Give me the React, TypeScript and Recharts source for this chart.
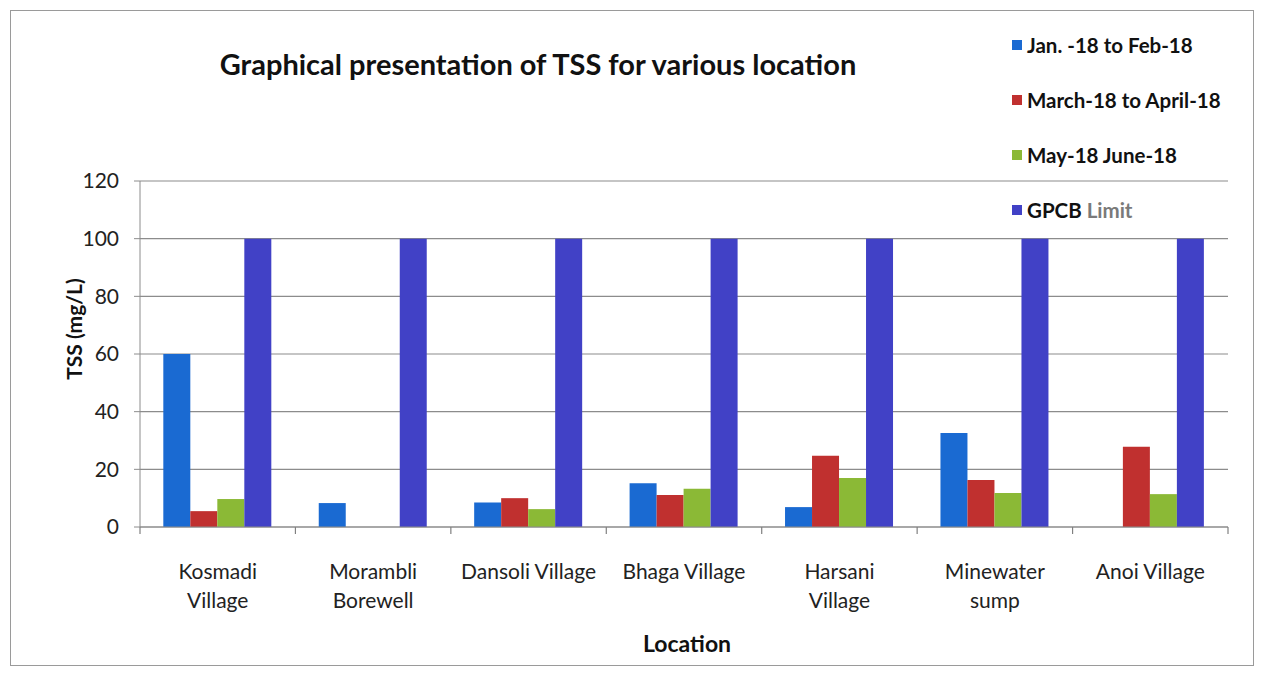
import React from "react";
import { BarChart, Bar, XAxis, YAxis, CartesianGrid } from "recharts";

const categoryLines: string[][] = [
  ["Kosmadi", "Village"],
  ["Morambli", "Borewell"],
  ["Dansoli Village"],
  ["Bhaga Village"],
  ["Harsani", "Village"],
  ["Minewater", "sump"],
  ["Anoi Village"],
];
const categories = categoryLines.map((l) => l.join(" "));

const janFeb = [60, 8.3, 8.5, 15.2, 6.9, 32.6, 0];
const marApr = [5.5, 0, 10, 11.1, 24.7, 16.3, 27.8];
const mayJun = [9.7, 0, 6.2, 13.3, 17, 11.8, 11.4];
const gpcbLimit = [100, 100, 100, 100, 100, 100, 100];

const yTicks = [0, 20, 40, 60, 80, 100, 120];
const seriesKeys = ["janFeb", "marApr", "mayJun", "gpcb"];
const seriesNames = ["Jan. -18 to Feb-18", "March-18 to April-18", "May-18 June-18", "GPCB Limit"];
const seriesColors = ["#1a6ad2", "#c0302f", "#8bb936", "#4141c6"];

const data = categories.map((c, i) => ({
  name: c,
  janFeb: janFeb[i],
  marApr: marApr[i],
  mayJun: mayJun[i],
  gpcb: gpcbLimit[i],
}));

const FONT = "Lato, 'Open Sans', sans-serif";

const CHART_W = 1263;
const CHART_H = 679;
const MARGIN = { top: 181, right: 35, bottom: 20, left: 80 };
const Y_AXIS_W = 60;
const PLOT_W = CHART_W - MARGIN.left - MARGIN.right - Y_AXIS_W;
const BAND = PLOT_W / categories.length;
const TICK_OFFSET = 8; // default tickSize (6) + tickMargin (2)

const CategoryTick = (props: any) => {
  const { x, y, index } = props;
  const lines = categoryLines[index] || [];
  const axisY = y - TICK_OFFSET;
  const left = x - BAND / 2;
  const right = x + BAND / 2;
  return (
    <g>
      <line x1={left} y1={axisY} x2={left} y2={axisY + 7} stroke="#808080" strokeWidth={1.2} />
      {index === categories.length - 1 && (
        <line x1={right} y1={axisY} x2={right} y2={axisY + 7} stroke="#808080" strokeWidth={1.2} />
      )}
      {lines.map((ln, k) => (
        <text
          key={k}
          x={x}
          y={axisY + 43 + k * 29}
          textAnchor="middle"
          dominantBaseline="central"
          fontFamily={FONT}
          fontSize={21}
          fill="#222"
        >
          {ln}
        </text>
      ))}
    </g>
  );
};

const YLabel = (props: any) => {
  const vb = props.viewBox || {};
  const cx = vb.x - 7;
  const cy = vb.y + vb.height / 2 - 25;
  return (
    <text
      x={cx}
      y={cy}
      transform={`rotate(-90 ${cx} ${cy})`}
      textAnchor="middle"
      dominantBaseline="central"
      fontFamily={FONT}
      fontWeight="bold"
      fontSize={21}
      fill="#111"
    >
      TSS (mg/L)
    </text>
  );
};

const XLabel = (props: any) => {
  const vb = props.viewBox || {};
  return (
    <text
      x={vb.x + vb.width / 2 + 3}
      y={643}
      textAnchor="middle"
      dominantBaseline="central"
      fontFamily={FONT}
      fontWeight="bold"
      fontSize={23}
      fill="#111"
    >
      Location
    </text>
  );
};

const LegendBox = () => (
  <div
    style={{
      position: "absolute",
      left: 1012,
      top: 17,
      width: 250,
      fontFamily: FONT,
      fontWeight: "bold",
      fontSize: 20.5,
      color: "#111",
      whiteSpace: "nowrap",
    }}
  >
    {seriesNames.map((n, i) => (
      <div key={n} style={{ display: "flex", alignItems: "center", height: 55 }}>
        <span
          style={{
            display: "inline-block",
            width: 10,
            height: 10,
            background: seriesColors[i],
            marginRight: 5,
            flexShrink: 0,
          }}
        />
        {i === 3 ? (
          <span>
            GPCB <span style={{ color: "#7a7a7a" }}>Limit</span>
          </span>
        ) : (
          <span>{n}</span>
        )}
      </div>
    ))}
  </div>
);

export default function App() {
  return (
    <div style={{ position: "absolute", left: 0, top: 0, width: CHART_W, height: CHART_H, background: "#fff" }}>
      <div
        style={{
          position: "absolute",
          left: 10,
          top: 10,
          width: 1244,
          height: 656,
          border: "1px solid #9a9a9a",
          boxSizing: "border-box",
        }}
      />
      <div
        style={{
          position: "absolute",
          left: 138,
          top: 46,
          width: 800,
          textAlign: "center",
          fontFamily: FONT,
          fontWeight: "bold",
          fontSize: 29,
          color: "#111",
          whiteSpace: "nowrap",
        }}
      >
        Graphical presentation of TSS for various location
      </div>
      <div style={{ position: "absolute", left: 0, top: 0 }}>
        <BarChart
          width={CHART_W}
          height={CHART_H}
          data={data}
          margin={MARGIN}
          barCategoryGap="15%"
          barGap={0}
        >
          <CartesianGrid vertical={false} stroke="#8c8c8c" strokeWidth={1.2} />
          <XAxis
            dataKey="name"
            interval={0}
            tickLine={false}
            axisLine={{ stroke: "#8c8c8c", strokeWidth: 1.2 }}
            tick={<CategoryTick />}
            height={132}
            label={<XLabel />}
          />
          <YAxis
            domain={[0, 120]}
            ticks={yTicks}
            interval={0}
            width={Y_AXIS_W}
            tickSize={6}
            tickMargin={15}
            tickLine={{ stroke: "#8c8c8c" }}
            axisLine={{ stroke: "#8c8c8c" }}
            tick={{ fontFamily: FONT, fontSize: 21, fill: "#222" }}
            label={<YLabel />}
          />
          {seriesKeys.map((k, i) => (
            <Bar key={k} dataKey={k} name={seriesNames[i]} fill={seriesColors[i]} isAnimationActive={false} />
          ))}
        </BarChart>
      </div>
      <LegendBox />
    </div>
  );
}
